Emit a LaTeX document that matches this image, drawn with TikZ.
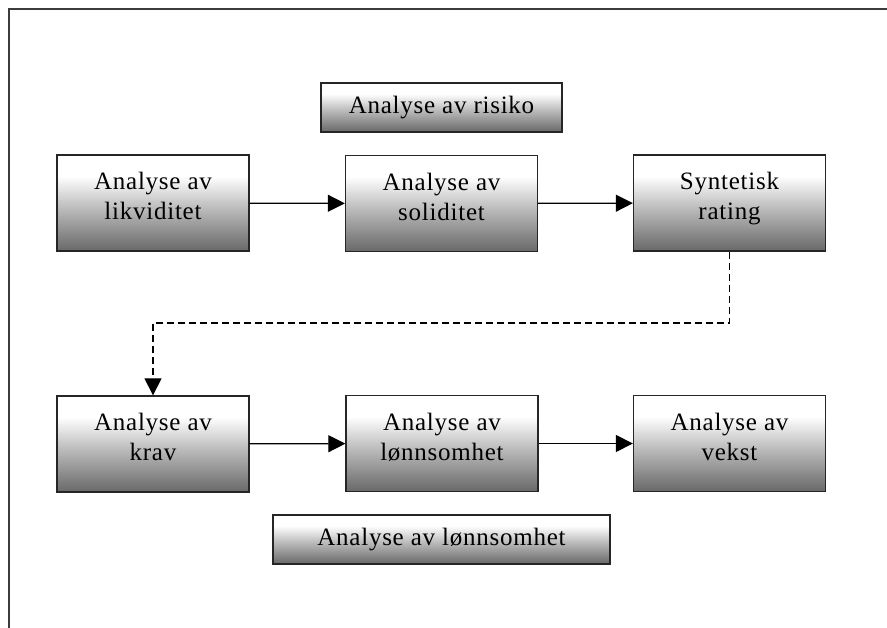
\documentclass[tikz,border=0pt]{standalone}
\usepackage{fontspec}
\setmainfont[LetterSpace=3]{Liberation Serif}
\usetikzlibrary{arrows.meta}
\definecolor{boxdark}{RGB}{104,104,104}
\definecolor{boxmid}{RGB}{190,190,190}
\definecolor{framecol}{RGB}{60,60,60}
\pgfdeclareverticalshading{boxshade}{100bp}{color(0bp)=(boxdark); color(25bp)=(boxdark); color(48bp)=(boxmid); color(64bp)=(white); color(75bp)=(white); color(100bp)=(white)}
\tikzset{
  flowbox/.style={draw=black!85, line width=1.3pt, shading=boxshade, align=center,
    font=\fontsize{25}{30}\selectfont, inner sep=0pt, text=black},
  bigbox/.style={flowbox, minimum width=192pt, minimum height=96pt, text depth=14pt},
  widebox/.style={flowbox, minimum height=49pt},
  flowarrow/.style={line width=1.2pt, -{Triangle[length=17pt,width=17pt]}},
  dasharrow/.style={line width=1.2pt, dashed, dash pattern=on 7pt off 4pt, -{Triangle[length=17pt,width=17pt]}}
}
\begin{document}
\begin{tikzpicture}[x=1pt,y=-1pt]
\useasboundingbox (0,0) rectangle (887,628);
\draw[framecol, line width=1.6pt] (9,628) -- (9,9) -- (887,9);
\node[widebox, minimum width=241pt] (risk) at (441.5,107.5) {Analyse av risiko};
\node[bigbox] (likv) at (153,203) {Analyse av\\likviditet};
\node[bigbox] (soli) at (441.5,203.5) {Analyse av\\soliditet};
\node[bigbox] (synt) at (729.5,203) {Syntetisk\\rating};
\node[bigbox] (krav) at (153,444) {Analyse av\\krav};
\node[bigbox] (lonn) at (442,443.5) {Analyse av\\lønnsomhet};
\node[bigbox] (vekst) at (729.5,443.5) {Analyse av\\vekst};
\node[widebox, minimum width=337pt] (lonn2) at (441.5,539.5) {Analyse av lønnsomhet};
\coordinate (d1) at (729.5,323);
\coordinate (d2) at (153,323);
\draw[flowarrow] (likv) -- (soli);
\draw[flowarrow] (soli) -- (synt);
\draw[flowarrow] (krav) -- (lonn);
\draw[flowarrow] (lonn) -- (vekst);
\draw[dasharrow] (synt.south) -- (d1) -- (d2) -- (krav.north);
\end{tikzpicture}
\end{document}
